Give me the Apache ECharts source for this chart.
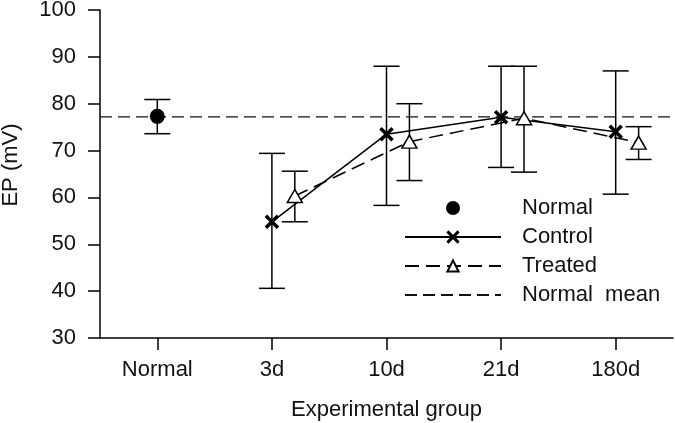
<!DOCTYPE html>
<html>
<head>
<meta charset="utf-8">
<script src="https://cdn.jsdelivr.net/npm/echarts@6/dist/echarts.min.js"></script>
<style>
html,body{margin:0;padding:0;background:#fff;}
#chart{width:675px;height:423px;}
</style>
</head>
<body>
<div id="chart"></div>
<script>
// ---- data ----
const categories = ['Normal', '3d', '10d', '21d', '180d'];
const yTicks = [30, 40, 50, 60, 70, 80, 90, 100];

const normalMean = 77.2;
const normalValue = 77.3;
const normalLow = 73.6;
const normalHigh = 80.9;

const controlX = [1, 2, 3, 4];
const controlValues = [54.8, 73.5, 77.1, 74.0];
const controlLow = [40.6, 58.3, 66.4, 60.7];
const controlHigh = [69.4, 88.0, 88.0, 87.0];

const treatedOffset = 0.2;
const treatedValues = [60.3, 71.9, 76.9, 71.7];
const treatedLow = [54.8, 63.6, 65.4, 68.1];
const treatedHigh = [65.6, 80.0, 88.0, 75.1];

// ---- build ----
const FONT = 'Liberation Sans, Arial, sans-serif';
const FS = 22;
const controlData = controlX.map((x, i) => [x, controlValues[i]]);
const treatedData = controlX.map((x, i) => [x + treatedOffset, treatedValues[i]]);
const errData = [[0, normalLow, normalHigh]]
  .concat(controlX.map((x, i) => [x, controlLow[i], controlHigh[i]]))
  .concat(controlX.map((x, i) => [x + treatedOffset, treatedLow[i], treatedHigh[i]]));

const crossPath = 'path://M0,0L10,10M10,0L0,10';

const chart = echarts.init(document.getElementById('chart'), null, {renderer: 'canvas'});
chart.setOption({
  animation: false,
  backgroundColor: '#fff',
  textStyle: {fontFamily: FONT},
  grid: {left: 100, right: 2, top: 10, bottom: 85, containLabel: false, outerBoundsMode: 'none'},
  xAxis: {
    type: 'value',
    min: -0.5,
    max: 4.5,
    name: 'Experimental group',
    nameLocation: 'middle',
    nameGap: 61,
    nameTextStyle: {fontSize: FS, color: '#111', fontFamily: FONT},
    axisLine: {show: true, onZero: false, lineStyle: {color: '#000', width: 1.5}},
    axisTick: {show: true, inside: false, length: 12, customValues: [0, 1, 2, 3, 4], lineStyle: {color: '#000', width: 1.5}},
    axisLabel: {
      show: true, margin: 21, fontSize: FS, color: '#111', fontFamily: FONT,
      customValues: [0, 1, 2, 3, 4],
      formatter: v => categories[Math.round(v)] || ''
    },
    splitLine: {show: false}
  },
  yAxis: {
    type: 'value',
    min: yTicks[0],
    max: yTicks[yTicks.length - 1],
    interval: 10,
    name: 'EP (mV)',
    nameLocation: 'middle',
    nameGap: 78,
    nameTextStyle: {fontSize: FS, color: '#111', fontFamily: FONT, padding: [0, 0, 0, 18]},
    axisLine: {show: true, onZero: false, lineStyle: {color: '#000', width: 1.5}},
    axisTick: {show: true, inside: false, length: 12, lineStyle: {color: '#000', width: 1.5}},
    axisLabel: {margin: 24, fontSize: FS, color: '#111', fontFamily: FONT},
    splitLine: {show: false}
  },
  legend: {
    orient: 'vertical',
    left: 404,
    top: 197,
    padding: 0,
    itemWidth: 96,
    itemHeight: 14,
    itemGap: 7,
    selectedMode: false,
    textStyle: {fontSize: FS, color: '#111', fontFamily: FONT, padding: [0, 0, 0, 16]},
    data: [
      {name: 'Normal', itemStyle: {opacity: 1}},
      {name: 'Control', itemStyle: {borderWidth: 3}},
      'Treated',
      {name: 'Normal  mean', itemStyle: {color: 'rgba(0,0,0,0)', borderColor: 'rgba(0,0,0,0)', borderWidth: 0}}
    ]
  },
  series: [
    {
      name: 'Normal  mean',
      type: 'line',
      data: [[-0.5, normalMean], [4.5, normalMean]],
      symbol: 'none',
      lineStyle: {color: '#111', width: 1.3, type: [12, 6]},
      itemStyle: {color: '#111'},
      z: 1
    },
    {
      name: 'errorbars',
      type: 'custom',
      data: errData,
      encode: {x: 0, y: [1, 2]},
      renderItem: function (params, api) {
        const x = api.value(0);
        const lo = api.coord([x, api.value(1)]);
        const hi = api.coord([x, api.value(2)]);
        const hw = 13;
        const style = {stroke: '#000', lineWidth: 1.5};
        return {
          type: 'group',
          children: [
            {type: 'line', shape: {x1: lo[0], y1: lo[1], x2: hi[0], y2: hi[1]}, style: style},
            {type: 'line', shape: {x1: lo[0] - hw, y1: lo[1], x2: lo[0] + hw, y2: lo[1]}, style: style},
            {type: 'line', shape: {x1: hi[0] - hw, y1: hi[1], x2: hi[0] + hw, y2: hi[1]}, style: style}
          ]
        };
      },
      z: 2
    },
    {
      name: 'Control',
      type: 'line',
      data: controlData,
      symbol: crossPath,
      symbolSize: 12,
      lineStyle: {color: '#000', width: 1.5},
      itemStyle: {color: '#000', borderColor: '#000', borderWidth: 3.5},
      z: 3
    },
    {
      name: 'Treated',
      type: 'line',
      data: treatedData,
      symbol: 'triangle',
      symbolSize: [15, 13],
      lineStyle: {color: '#000', width: 1.5, type: [14, 7]},
      itemStyle: {color: '#fff', borderColor: '#000', borderWidth: 1.5},
      z: 4
    },
    {
      name: 'Normal',
      type: 'scatter',
      data: [[0, normalValue]],
      symbol: 'circle',
      symbolSize: 15,
      itemStyle: {color: '#000', opacity: 1},
      z: 5
    }
  ]
});
</script>
</body>
</html>
